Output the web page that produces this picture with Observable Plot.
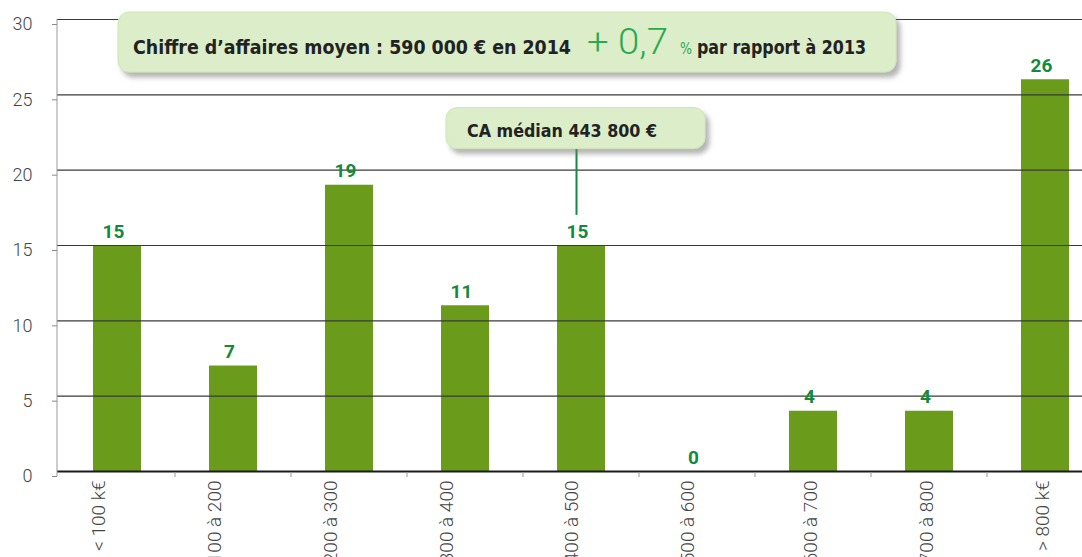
<!DOCTYPE html>
<html><head><meta charset="utf-8">
<script src="https://cdn.jsdelivr.net/npm/d3@7"></script>
<script src="https://cdn.jsdelivr.net/npm/@observablehq/plot@0.6"></script>
<style>
html,body{margin:0;padding:0;background:#fff;overflow:hidden;}
#chart svg{display:block;max-width:none;}
[aria-label="x-axis tick label"] text,[aria-label="y-axis tick label"] text{font-weight:300;}
</style></head><body><div id="chart"></div>
<script>
const categories = ["< 100 k€","100 à 200","200 à 300","300 à 400","400 à 500","500 à 600","600 à 700","700 à 800","> 800 k€"];
const values = [15, 7, 19, 11, 15, 0, 4, 4, 26];
const yTicks = [0, 5, 10, 15, 20, 25, 30];
const meanParts = ["Chiffre d’affaires moyen : 590 000 € en 2014", "+ 0,7", "%", "par rapport à 2013"];
const medianLabel = "CA médian 443 800 €";
const medianCategory = "400 à 500";
const medianConnector = [17, 21.4];

const data = categories.map((c, i) => ({cat: c, value: values[i]}));
const W = 1082, H = 557, ML = 57, MT = 19, MB = 86, STEP = 116.4;
const GREEN_TXT = "#13893d";
const xAxisStyle = {tickSize: 0, tickPadding: 9, tickRotate: -90, fontSize: 19, fill: "#444", label: null};

const chart = Plot.plot({
  width: W, height: H,
  marginLeft: ML, marginRight: 0, marginTop: MT, marginBottom: MB,
  style: {fontFamily: "Roboto, Lato, sans-serif", background: "white"},
  x: {domain: categories, range: [ML, ML + STEP * categories.length], paddingInner: 0.59, paddingOuter: 0.295, label: null},
  y: {domain: [0, 30], label: null},
  marks: [
    Plot.barY(data, {x: "cat", y: "value", fill: "#6a9b1a"}),
    Plot.ruleY(yTicks.filter(d => d > 0), {stroke: "#3a3a3a", strokeWidth: 1.2}),
    Plot.ruleY([0], {stroke: "#1a1a1a", strokeWidth: 2}),
    Plot.text(data, {x: "cat", y: "value", text: d => String(d.value), lineAnchor: "bottom", dy: -8, dx: -4,
      fill: GREEN_TXT, fontWeight: "bold", fontSize: 19}),
    Plot.ruleX([medianCategory], {y1: medianConnector[0], y2: medianConnector[1], stroke: "#138a3e", strokeWidth: 2, dx: -5}),
    Plot.axisY({ticks: yTicks, tickSize: 5, tickPadding: 20, stroke: "#888", fill: "#444", fontSize: 18, dy: 5, label: null}),
    Plot.axisX({...xAxisStyle, ticks: categories.slice(0, 4), dx: -19}),
    Plot.axisX({...xAxisStyle, ticks: categories.slice(4, 6), dx: -10}),
    Plot.axisX({...xAxisStyle, ticks: categories.slice(6), dx: -3})
  ]
});
document.getElementById("chart").appendChild(chart);

const xs = chart.scale("x"), ys = chart.scale("y");
const svg = d3.select(chart);
const bw = xs.bandwidth;
const center = c => xs.apply(c) + bw / 2;
const y0 = ys.apply(0);

svg.append("line").attr("x1", ML).attr("x2", ML).attr("y1", ys.apply(30)).attr("y2", y0 + 5)
  .attr("stroke", "#999").attr("stroke-width", 1);
for (let k = 1; k < categories.length; k++) {
  const b = (center(categories[k - 1]) + center(categories[k])) / 2;
  svg.append("line").attr("x1", b).attr("x2", b).attr("y1", y0 + 1).attr("y2", y0 + 6)
    .attr("stroke", "#999").attr("stroke-width", 1);
}

const defs = svg.append("defs");
const f = defs.append("filter").attr("id", "shadow").attr("x", "-10%").attr("y", "-30%").attr("width", "120%").attr("height", "170%");
f.append("feDropShadow").attr("dx", 4).attr("dy", 5).attr("stdDeviation", 2.5).attr("flood-color", "#777").attr("flood-opacity", 0.55);

const boxFont = "'DejaVu Sans Condensed','Liberation Sans Narrow','Noto Sans',sans-serif";
function box(x, y, w, h) {
  svg.append("rect").attr("x", x).attr("y", y).attr("width", w).attr("height", h).attr("rx", 11)
    .attr("fill", "#dcedc9").attr("stroke", "#d0e4b8").attr("filter", "url(#shadow)");
}
function txt(s, x, y, len, opts) {
  const t = svg.append("text").attr("x", x).attr("y", y).text(s)
    .attr("text-anchor", "start")
    .attr("font-family", opts.family || boxFont).attr("font-size", opts.size)
    .attr("font-weight", opts.weight || "bold").attr("fill", opts.fill || "#222");
  if (len) t.attr("textLength", len).attr("lengthAdjust", "spacingAndGlyphs");
  if (opts.stretch) t.attr("font-stretch", opts.stretch);
  return t;
}

box(118, 12, 778, 60);
txt(meanParts[0], 133, 54, 438, {size: 20, stretch: "condensed"});
txt(meanParts[1], 587, 54, 81, {size: 37, weight: 300, fill: "#2aaa4a", family: "Roboto, Lato, sans-serif"});
txt(meanParts[2], 680, 54, 12, {size: 15, weight: "normal", fill: "#2aaa4a", stretch: "condensed"});
txt(meanParts[3], 697, 54, 169, {size: 20, stretch: "condensed"});

const mx = center(medianCategory) - 5;
const mTop = ys.apply(medianConnector[1]) - 41;
box(mx - 130, mTop, 259, 41);
txt(medianLabel, mx - 109, mTop + 29, 190, {size: 18, stretch: "condensed"});
</script></body></html>
